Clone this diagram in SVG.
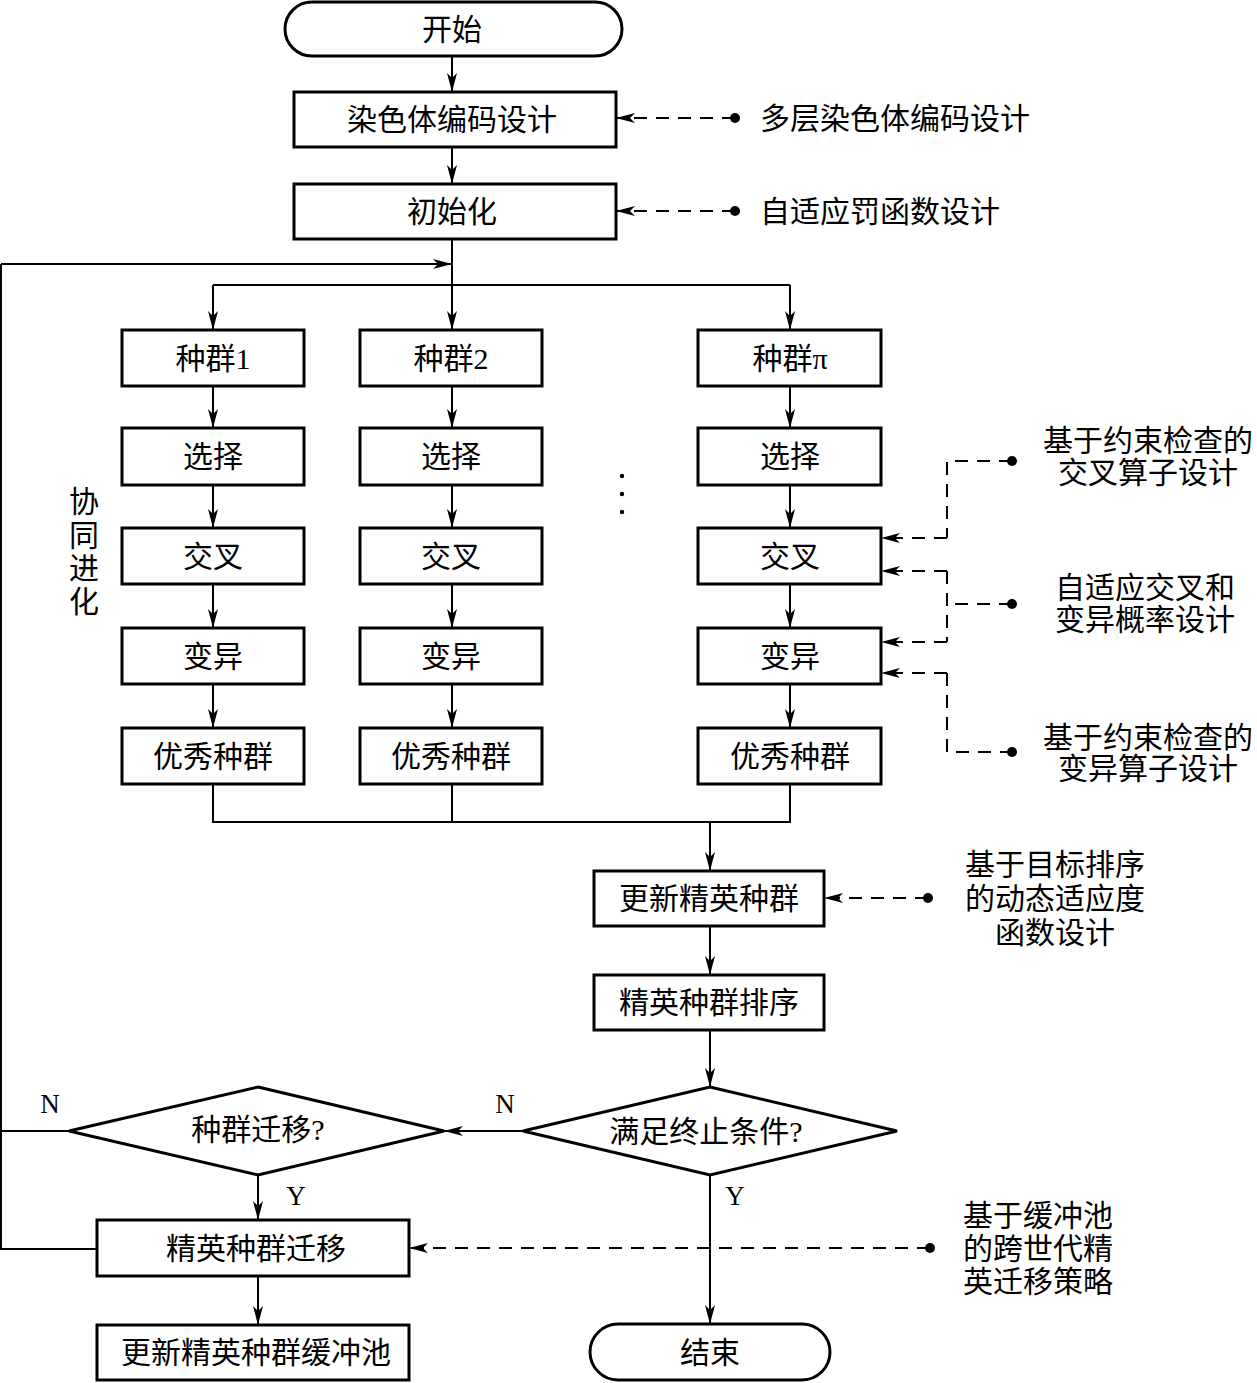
<svg xmlns="http://www.w3.org/2000/svg" width="1257" height="1383" viewBox="0 0 1257 1383">
<style>
.box{fill:#fff;stroke:#000;stroke-width:3}
.t{font-family:"Liberation Serif","Noto Sans CJK SC",serif;font-size:30px;fill:#000;text-anchor:middle;dominant-baseline:central}
.tl{font-family:"Liberation Serif","Noto Sans CJK SC",serif;font-size:30px;fill:#000;text-anchor:start;dominant-baseline:central}
.lat{font-family:"Liberation Serif","Noto Sans CJK SC",serif;font-size:27px;fill:#000;text-anchor:middle;dominant-baseline:central}
.ln{fill:none;stroke:#000;stroke-width:2}
.ar{fill:none;stroke:#000;stroke-width:2;marker-end:url(#ah)}
.da{fill:none;stroke:#000;stroke-width:2;stroke-dasharray:13 9}
.dar{fill:none;stroke:#000;stroke-width:2;stroke-dasharray:13 9;marker-end:url(#ah)}
.dot{fill:#000}
</style>
<defs>
<marker id="ah" markerUnits="userSpaceOnUse" markerWidth="20" markerHeight="12" refX="19" refY="5" orient="auto">
<path d="M0,0 L19,5 L0,10 L5,5 z" fill="#000"/>
</marker>
</defs>
<rect width="1257" height="1383" fill="#fff"/>

<g id="connectors">
<path class="ar" d="M452,56 V92"/>
<path class="ar" d="M452,147 V184"/>
<path class="ln" d="M452,239 V285"/>
<path class="ln" d="M213,285 H790"/>
<path class="ar" d="M213,285 V330"/>
<path class="ar" d="M452,285 V330"/>
<path class="ar" d="M790,285 V330"/>
<path class="ar" d="M1,264 H452"/>
<path class="ln" d="M1,264 V1249 H97"/>
<path class="ln" d="M1,1131 H69"/>
<path class="ar" d="M213,386 V428"/><path class="ar" d="M213,485 V528"/><path class="ar" d="M213,584 V628"/><path class="ar" d="M213,684 V728"/>
<path class="ar" d="M452,386 V428"/><path class="ar" d="M452,485 V528"/><path class="ar" d="M452,584 V628"/><path class="ar" d="M452,684 V728"/>
<path class="ar" d="M790,386 V428"/><path class="ar" d="M790,485 V528"/><path class="ar" d="M790,584 V628"/><path class="ar" d="M790,684 V728"/>
<path class="ln" d="M213,784 V822 H790 V784"/>
<path class="ln" d="M452,784 V822"/>
<path class="ar" d="M710,822 V871"/>
<path class="ar" d="M710,926 V975"/>
<path class="ar" d="M710,1030 V1087"/>
<path class="ar" d="M523,1131 H444"/>
<path class="ar" d="M710,1175 V1324"/>
<path class="ar" d="M258,1175 V1220"/>
<path class="ar" d="M258,1276 V1325"/>
<path class="dar" d="M735,118 H616"/><circle class="dot" cx="735" cy="118" r="5"/>
<path class="dar" d="M735,211 H616"/><circle class="dot" cx="735" cy="211" r="5"/>
<path class="da" d="M1012,461 H947 V538"/><path class="dar" d="M947,538 H881"/><circle class="dot" cx="1012" cy="461" r="5"/>
<path class="dar" d="M947,571 H881"/><path class="da" d="M947,571 V642"/><path class="dar" d="M947,642 H881"/>
<path class="da" d="M1012,604 H947"/><circle class="dot" cx="1012" cy="604" r="5"/>
<path class="dar" d="M947,673 H881"/><path class="da" d="M947,673 V752 H1012"/><circle class="dot" cx="1012" cy="752" r="5"/>
<path class="dar" d="M928,898 H824"/><circle class="dot" cx="928" cy="898" r="5"/>
<path class="dar" d="M930,1248 H409"/><circle class="dot" cx="930" cy="1248" r="5"/>
</g>

<g id="n-start"><rect class="box" x="285" y="2" width="337" height="54" rx="27"/><text class="t" x="452" y="29">开始</text></g>
<g id="n-encode"><rect class="box" x="294" y="92" width="322" height="55"/><text class="t" x="452" y="119">染色体编码设计</text></g>
<g id="n-init"><rect class="box" x="294" y="184" width="322" height="55"/><text class="t" x="452" y="211">初始化</text></g>

<g id="n-pop1"><rect class="box" x="122" y="330" width="182" height="56"/><text class="t" x="213" y="358">种群1</text></g>
<g id="n-sel1"><rect class="box" x="122" y="428" width="182" height="57"/><text class="t" x="213" y="456">选择</text></g>
<g id="n-cro1"><rect class="box" x="122" y="528" width="182" height="56"/><text class="t" x="213" y="556">交叉</text></g>
<g id="n-mut1"><rect class="box" x="122" y="628" width="182" height="56"/><text class="t" x="213" y="656">变异</text></g>
<g id="n-good1"><rect class="box" x="122" y="728" width="182" height="56"/><text class="t" x="213" y="756">优秀种群</text></g>

<g id="n-pop2"><rect class="box" x="360" y="330" width="182" height="56"/><text class="t" x="451" y="358">种群2</text></g>
<g id="n-sel2"><rect class="box" x="360" y="428" width="182" height="57"/><text class="t" x="451" y="456">选择</text></g>
<g id="n-cro2"><rect class="box" x="360" y="528" width="182" height="56"/><text class="t" x="451" y="556">交叉</text></g>
<g id="n-mut2"><rect class="box" x="360" y="628" width="182" height="56"/><text class="t" x="451" y="656">变异</text></g>
<g id="n-good2"><rect class="box" x="360" y="728" width="182" height="56"/><text class="t" x="451" y="756">优秀种群</text></g>

<g id="n-pop3"><rect class="box" x="698" y="330" width="183" height="56"/><text class="t" x="790" y="358">种群π</text></g>
<g id="n-sel3"><rect class="box" x="698" y="428" width="183" height="57"/><text class="t" x="790" y="456">选择</text></g>
<g id="n-cro3"><rect class="box" x="698" y="528" width="183" height="56"/><text class="t" x="790" y="556">交叉</text></g>
<g id="n-mut3"><rect class="box" x="698" y="628" width="183" height="56"/><text class="t" x="790" y="656">变异</text></g>
<g id="n-good3"><rect class="box" x="698" y="728" width="183" height="56"/><text class="t" x="790" y="756">优秀种群</text></g>

<g id="n-dots"><circle class="dot" cx="622" cy="476" r="2.2"/><circle class="dot" cx="622" cy="494" r="2.2"/><circle class="dot" cx="622" cy="512" r="2.2"/></g>
<g id="n-coevo"><text class="t" x="84"><tspan x="84" y="501">协</tspan><tspan x="84" y="535">同</tspan><tspan x="84" y="568">进</tspan><tspan x="84" y="601">化</tspan></text></g>

<g id="n-update"><rect class="box" x="594" y="871" width="230" height="55"/><text class="t" x="709" y="898">更新精英种群</text></g>
<g id="n-sort"><rect class="box" x="594" y="975" width="230" height="55"/><text class="t" x="709" y="1002">精英种群排序</text></g>
<g id="n-term"><polygon class="box" points="710,1087 897,1131 710,1175 523,1131"/><text class="t" x="706" y="1131">满足终止条件?</text></g>
<g id="n-migq"><polygon class="box" points="258,1087 444,1131 258,1175 69,1131"/><text class="t" x="258" y="1129">种群迁移?</text></g>
<g id="n-mig"><rect class="box" x="97" y="1220" width="312" height="56"/><text class="t" x="256" y="1248">精英种群迁移</text></g>
<g id="n-buf"><rect class="box" x="97" y="1325" width="312" height="55"/><text class="t" x="256" y="1352">更新精英种群缓冲池</text></g>
<g id="n-end"><rect class="box" x="590" y="1324" width="240" height="56" rx="28"/><text class="t" x="710" y="1352">结束</text></g>

<g id="labels">
<text class="lat" x="50" y="1104">N</text>
<text class="lat" x="505" y="1104">N</text>
<text class="lat" x="296" y="1196">Y</text>
<text class="lat" x="735" y="1196">Y</text>
</g>

<g id="n-notes">
<text class="tl" x="760" y="118">多层染色体编码设计</text>
<text class="tl" x="760" y="211">自适应罚函数设计</text>
<text class="t"><tspan x="1148" y="440">基于约束检查的</tspan><tspan x="1148" y="472">交叉算子设计</tspan></text>
<text class="t"><tspan x="1145" y="587">自适应交叉和</tspan><tspan x="1145" y="619">变异概率设计</tspan></text>
<text class="t"><tspan x="1148" y="737">基于约束检查的</tspan><tspan x="1148" y="768">变异算子设计</tspan></text>
<text class="t"><tspan x="1055" y="864">基于目标排序</tspan><tspan x="1055" y="898">的动态适应度</tspan><tspan x="1055" y="932">函数设计</tspan></text>
<text class="tl"><tspan x="963" y="1215">基于缓冲池</tspan><tspan x="963" y="1248">的跨世代精</tspan><tspan x="963" y="1281">英迁移策略</tspan></text>
</g>
</svg>
